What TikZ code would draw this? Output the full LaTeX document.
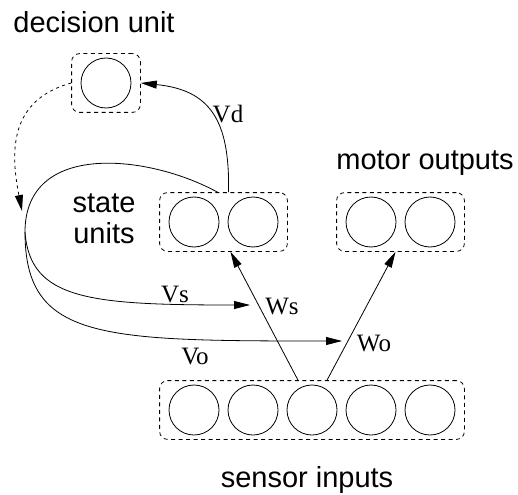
\documentclass[tikz,border=0pt]{standalone}
\usepackage{fontspec}
\setmainfont{Liberation Serif}
\setsansfont{Liberation Sans}
\usetikzlibrary{arrows.meta,fit,calc}

\begin{document}
\begin{tikzpicture}[x=1pt, y=-1pt,
  neuron/.style={circle, draw, line width=0.8pt, minimum size=50pt, inner sep=0pt},
  layer/.style={draw, dash pattern=on 4pt off 3.5pt, line width=0.8pt, rounded corners=8pt, inner xsep=9pt, inner ysep=4pt},
  arr/.style={-{Triangle[length=16pt, width=8pt]}, line width=0.8pt},
  darr/.style={arr, dash pattern=on 3pt off 3.5pt},
  title/.style={font=\sffamily\fontsize{29}{31}\selectfont, inner sep=0pt, align=center},
  lbl/.style={font=\fontsize{25}{28}\selectfont, inner sep=0pt}
]
  \useasboundingbox (0,0) rectangle (518,494);

  % units
  \node[neuron] (d1) at (106,83) {};
  \node[neuron] (st1) at (194,222) {};
  \node[neuron] (st2) at (253,222) {};
  \node[neuron] (m1) at (371,222) {};
  \node[neuron] (m2) at (430,222) {};
  \foreach \i/\x in {1/194,2/253,3/312,4/371,5/430}
    \node[neuron] (s\i) at (\x,410) {};

  % layers
  \node[layer, fit=(d1)] (dec) {};
  \node[layer, fit=(st1) (st2)] (st) {};
  \node[layer, fit=(m1) (m2)] (mo) {};
  \node[layer, fit=(s1) (s5)] (sens) {};

  % titles
  \node[title, anchor=base] (tdec) at (94,33) {decision unit};
  \node[title, anchor=base] (tmo) at (425,170) {motor outputs};
  \node[title, anchor=base] (tsens) at (307,487) {sensor inputs};
  \node[title] (tst) at (104,219) {state\\units};

  % free ends
  \coordinate (fork) at (25,232);
  \coordinate (dtip) at (22,211);
  \coordinate (vsend) at (250,305);
  \coordinate (voend) at (342,341);

  % connections
  \draw[arr] ([xshift=5pt]st.north) .. controls (230,120) and (210,90) .. (dec.east);
  \draw[darr] (dec.west) .. controls (10,100) and (10,150) .. (dtip);
  \draw[line width=0.8pt] ([xshift=-6pt]st.north) .. controls (150,155) and (25,140) .. (fork);
  \draw[arr] (fork) .. controls (30,300) and (90,305) .. (vsend);
  \draw[arr] (fork) .. controls (25,340) and (100,341) .. (voend);
  \draw[arr] ([xshift=-14pt]sens.north) -- ([xshift=7pt]st.south);
  \draw[arr] ([xshift=15pt]sens.north) -- ([xshift=-5pt]mo.south);

  % labels
  \node[lbl] (lvd) at (228,114) {Vd};
  \node[lbl] (lvs) at (175,295) {Vs};
  \node[lbl] (lvo) at (195,357) {Vo};
  \node[lbl] (lws) at (282,307) {Ws};
  \node[lbl] (lwo) at (374,344) {Wo};
\end{tikzpicture}
\end{document}
